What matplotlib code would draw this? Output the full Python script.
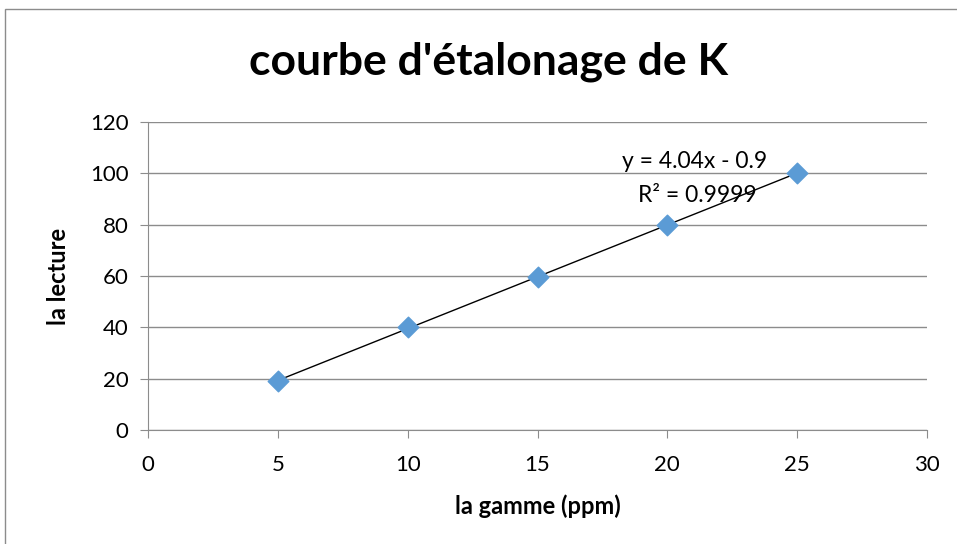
import numpy as np
import matplotlib.pyplot as plt
from matplotlib.patches import Rectangle

gamme = [5, 10, 15, 20, 25]
lecture = [19, 40, 59.5, 80, 100]
equation = "y = 4.04x - 0.9"
r2_text = "R² = 0.9999"

plt.rcParams['font.family'] = ['Lato', 'DejaVu Sans']

fig = plt.figure(figsize=(9.57, 5.44), dpi=100)
fig.patches.append(Rectangle((5 / 957, -0.1), 1.2, 1 - 9 / 544 + 0.1,
                             transform=fig.transFigure, fill=False,
                             edgecolor='#8c8c8c', linewidth=1))
ax = fig.add_axes([148 / 957, 1 - 430 / 544, 779 / 957, 308 / 544])

ax.set_xlim(0, 30)
ax.set_ylim(0, 120)
ax.set_xticks(range(0, 31, 5))
ax.set_yticks(range(0, 121, 20))
ax.yaxis.grid(True, color='#8c8c8c', linewidth=1)
ax.set_axisbelow(True)
for s in ['top', 'right']:
    ax.spines[s].set_visible(False)
ax.spines['left'].set_color('#8c8c8c')
ax.spines['bottom'].set_color('#8c8c8c')
ax.tick_params(axis='both', colors='#8c8c8c', labelcolor='black', labelsize=16,
               length=6, direction='out')
ax.tick_params(axis='x', pad=12)
ax.tick_params(axis='y', pad=8)

slope, inter = np.polyfit(gamme, lecture, 1)
xs = np.array([gamme[0], gamme[-1]])
ax.plot(xs, slope * xs + inter, color='black', linewidth=1, zorder=2)
ax.scatter(gamme, lecture, marker='D', s=110, color='#5b9bd5', zorder=3)

ax.text(21.05, 104.5, equation, fontsize=16.5, ha='center', va='center')
ax.text(21.15, 91.5, r2_text, fontsize=16.5, ha='center', va='center')

ax.set_xlabel('la gamme (ppm)', fontsize=17, fontweight='bold', labelpad=14)
ax.set_ylabel('la lecture', fontsize=17, fontweight='bold', labelpad=14)
fig.text(0.51, 1 - 62 / 544, "courbe d'étalonage de K", fontsize=32,
         fontweight='bold', ha='center', va='center')

fig.savefig('out.png', dpi=100)
